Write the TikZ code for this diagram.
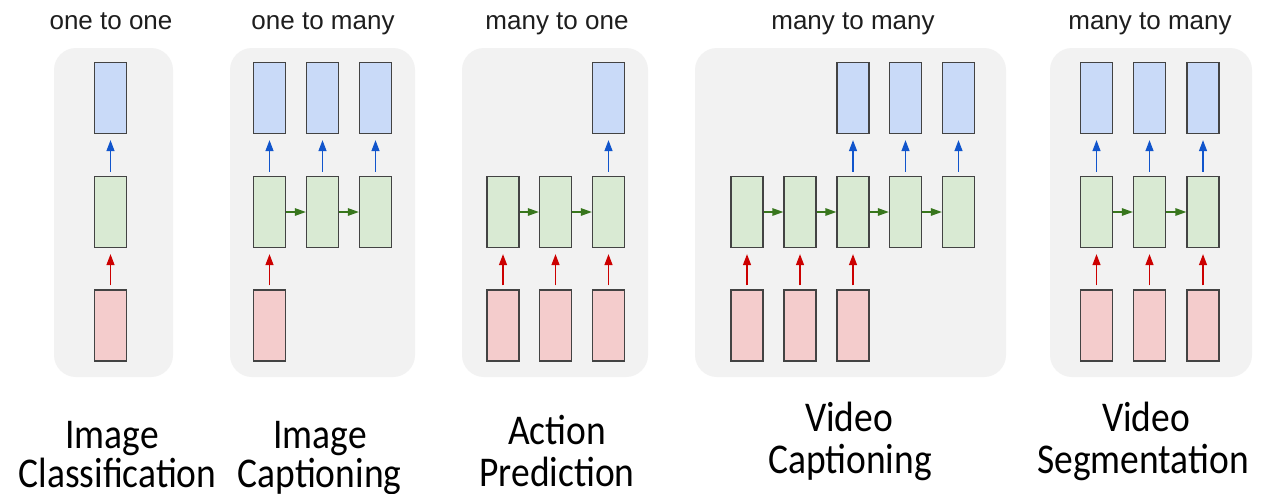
\documentclass[tikz,border=0pt]{standalone}
\usepackage{fontspec}
\setmainfont{Liberation Sans}
\newfontfamily\captionfont{Carlito}
\usetikzlibrary{arrows.meta}

\definecolor{panelgray}{HTML}{F2F2F2}
\definecolor{outblue}{HTML}{C9DAF8}
\definecolor{hidgreen}{HTML}{D9EAD3}
\definecolor{inred}{HTML}{F4CCCC}
\definecolor{boxline}{HTML}{434343}
\definecolor{arrblue}{HTML}{1155CC}
\definecolor{arrgreen}{HTML}{38761D}
\definecolor{arrred}{HTML}{CC0000}
\definecolor{titlegray}{HTML}{1E1E1E}

\tikzset{
  panel/.style={fill=panelgray, draw=none, rounded corners=22pt},
  cell/.style={draw=boxline, line width=1.3pt, minimum width=32pt, minimum height=71pt, inner sep=0pt},
  outcell/.style={cell, fill=outblue},
  hidcell/.style={cell, fill=hidgreen},
  incell/.style={cell, fill=inred},
  vlink/.style={-{Triangle[length=11pt,width=8pt]}, line width=1.3pt, shorten <=4pt, shorten >=6pt},
  outarrow/.style={vlink, color=arrblue},
  inarrow/.style={vlink, color=arrred},
  recarrow/.style={-{Triangle[length=11pt,width=7.5pt]}, line width=1.3pt, color=arrgreen},
  title/.style={font=\fontsize{26}{30}\selectfont, text=titlegray, anchor=base, inner sep=0pt},
  caption/.style={font=\captionfont\fontsize{37.5}{40}\selectfont, text=black, anchor=base, inner sep=0pt},
}

\newcommand{\tallcap}[1]{\scalebox{1}[1.13]{#1}}

\begin{document}
\begin{tikzpicture}[x=1pt, y=-1pt]
  \useasboundingbox (0,0) rectangle (1273,493);
  \fill[white] (0,0) rectangle (1273,493);

  % grey panels behind each architecture
  \path[panel] (54,48) rectangle (173,377);
  \path[panel] (230,48) rectangle (415,377);
  \path[panel] (462,48) rectangle (648,377);
  \path[panel] (695,48) rectangle (1006,377);
  \path[panel] (1050,48) rectangle (1252,377);

  % headings
  \node[title] (t1) at (111,29.5) {one to one};
  \node[title] (t2) at (323,29.5) {one to many};
  \node[title] (t3) at (557,29.5) {many to one};
  \node[title] (t4) at (853,29.5) {many to many};
  \node[title] (t5) at (1150,29.5) {many to many};

  % one to one
  \node[incell]  (a-i1) at (110.5,325.5) {};
  \node[hidcell] (a-h1) at (110.5,212) {};
  \node[outcell] (a-o1) at (110.5,98) {};
  \draw[inarrow]  (a-i1) -- (a-h1);
  \draw[outarrow] (a-h1) -- (a-o1);

  % one to many
  \foreach \i/\x in {1/269.5, 2/322.5, 3/375.5} {
    \node[hidcell] (b-h\i) at (\x,212) {};
    \node[outcell] (b-o\i) at (\x,98) {};
    \draw[outarrow] (b-h\i) -- (b-o\i);
  }
  \node[incell] (b-i1) at (269.5,325.5) {};
  \draw[inarrow] (b-i1) -- (b-h1);
  \draw[recarrow] (b-h1) -- (b-h2);
  \draw[recarrow] (b-h2) -- (b-h3);

  % many to one
  \foreach \i/\x in {1/503, 2/555.5, 3/608.5} {
    \node[hidcell] (c-h\i) at (\x,212) {};
    \node[incell]  (c-i\i) at (\x,325.5) {};
    \draw[inarrow] (c-i\i) -- (c-h\i);
  }
  \node[outcell] (c-o3) at (608.5,98) {};
  \draw[outarrow] (c-h3) -- (c-o3);
  \draw[recarrow] (c-h1) -- (c-h2);
  \draw[recarrow] (c-h2) -- (c-h3);

  % many to many, delayed outputs
  \foreach \i/\x in {1/747, 2/800, 3/853, 4/905.5, 5/958.5} {
    \node[hidcell] (d-h\i) at (\x,212) {};
  }
  \foreach \i/\x in {1/747, 2/800, 3/853} {
    \node[incell] (d-i\i) at (\x,325.5) {};
    \draw[inarrow] (d-i\i) -- (d-h\i);
  }
  \foreach \i/\x in {3/853, 4/905.5, 5/958.5} {
    \node[outcell] (d-o\i) at (\x,98) {};
    \draw[outarrow] (d-h\i) -- (d-o\i);
  }
  \draw[recarrow] (d-h1) -- (d-h2);
  \draw[recarrow] (d-h2) -- (d-h3);
  \draw[recarrow] (d-h3) -- (d-h4);
  \draw[recarrow] (d-h4) -- (d-h5);

  % many to many, synced outputs
  \foreach \i/\x in {1/1096.5, 2/1149.5, 3/1203} {
    \node[incell]  (e-i\i) at (\x,325.5) {};
    \node[hidcell] (e-h\i) at (\x,212) {};
    \node[outcell] (e-o\i) at (\x,98) {};
    \draw[inarrow]  (e-i\i) -- (e-h\i);
    \draw[outarrow] (e-h\i) -- (e-o\i);
  }
  \draw[recarrow] (e-h1) -- (e-h2);
  \draw[recarrow] (e-h2) -- (e-h3);

  % application captions
  \node[caption] (l1a) at (112,448)   {\tallcap{Image}};
  \node[caption] (l1b) at (117.5,487) {\tallcap{Classification}};
  \node[caption] (l2a) at (320,448)   {\tallcap{Image}};
  \node[caption] (l2b) at (319.5,487) {\tallcap{Captioning}};
  \node[caption] (l3a) at (557,444)   {\tallcap{Action}};
  \node[caption] (l3b) at (557,486)   {\tallcap{Prediction}};
  \node[caption] (l4a) at (849,431)   {\tallcap{Video}};
  \node[caption] (l4b) at (850,473)   {\tallcap{Captioning}};
  \node[caption] (l5a) at (1146,431)  {\tallcap{Video}};
  \node[caption] (l5b) at (1143,473)  {\tallcap{Segmentation}};
\end{tikzpicture}
\end{document}
